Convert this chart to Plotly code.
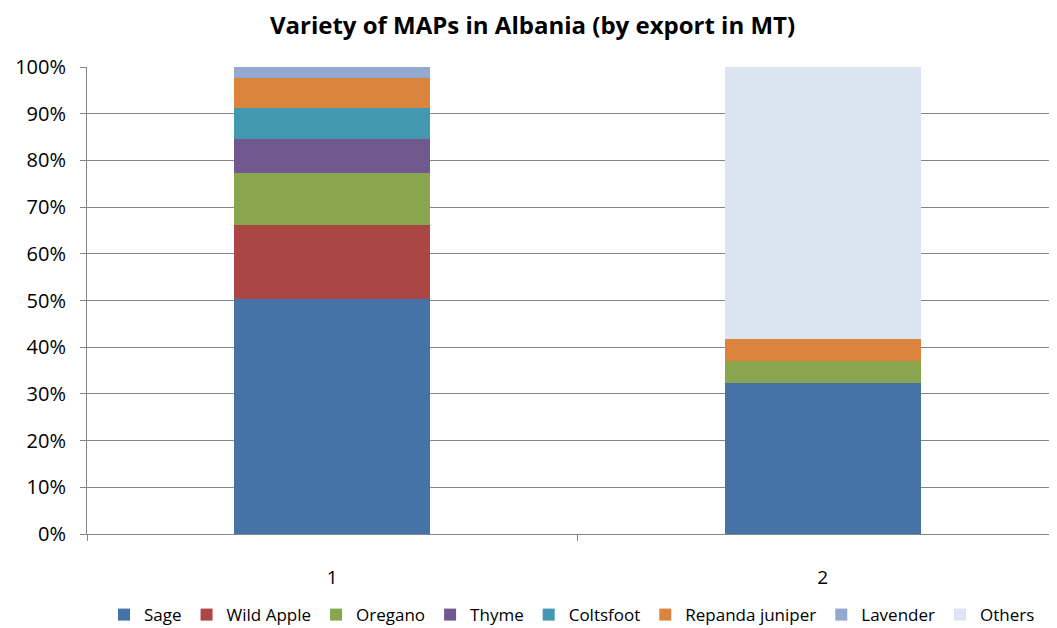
import plotly.graph_objects as go

# Data (share of export, %)
groups = [1, 2]
series = ["Sage", "Wild Apple", "Oregano", "Thyme", "Coltsfoot",
          "Repanda juniper", "Lavender", "Others"]
sage = [50.3, 32.3]
wild_apple = [15.8, 0]
oregano = [11.1, 4.7]
thyme = [7.4, 0]
coltsfoot = [6.7, 0]
repanda_juniper = [6.4, 4.8]
lavender = [2.3, 0]
others = [0, 58.2]

colors = ["#4572A7", "#AA4643", "#89A54E", "#71588F", "#4198AF",
          "#DB843D", "#93A9CF", "#DBE5F1"]
values = [sage, wild_apple, oregano, thyme, coltsfoot,
          repanda_juniper, lavender, others]

fig = go.Figure()
for name, vals, col in zip(series, values, colors):
    fig.add_trace(go.Bar(x=groups, y=vals, name=name, width=0.4,
                         marker=dict(color=col, line=dict(width=0))))

font = "Open Sans, Liberation Sans, sans-serif"
# page body has an 8px margin, so the figure is sized/offset to compensate
fig.update_layout(
    barmode="stack",
    width=1049, height=620,
    margin=dict(l=79, r=0, t=59, b=94, autoexpand=False),
    paper_bgcolor="white", plot_bgcolor="white",
    title=dict(text="<b>Variety of MAPs in Albania (by export in MT)</b>",
               x=0.5, xanchor="center", y=0.971, yanchor="middle",
               font=dict(family=font, size=24, color="black")),
    font=dict(family=font, size=19, color="black"),
    legend=dict(orientation="h", x=0.5, xanchor="center", y=-0.135,
                yanchor="top", font=dict(family=font, size=17),
                traceorder="normal", itemwidth=30),
    bargap=0,
)
fig.update_yaxes(range=[0, 100], dtick=10, ticksuffix="%",
                 showgrid=True, gridcolor="#868686", gridwidth=1,
                 showline=True, linecolor="#868686", ticks="outside",
                 ticklen=6, tickcolor="#868686", zeroline=False,
                 ticklabelstandoff=10, tickfont=dict(size=20))
fig.update_xaxes(range=[0.5, 2.478], tickvals=[1, 2], ticktext=["1", "2"],
                 showline=True, linecolor="#868686", showgrid=False,
                 ticks="", ticklabelstandoff=26,
                 minor=dict(tickvals=[0.5, 1.5, 2.5], ticks="outside",
                            ticklen=6, tickcolor="#868686"))

fig.write_html("out.html")
